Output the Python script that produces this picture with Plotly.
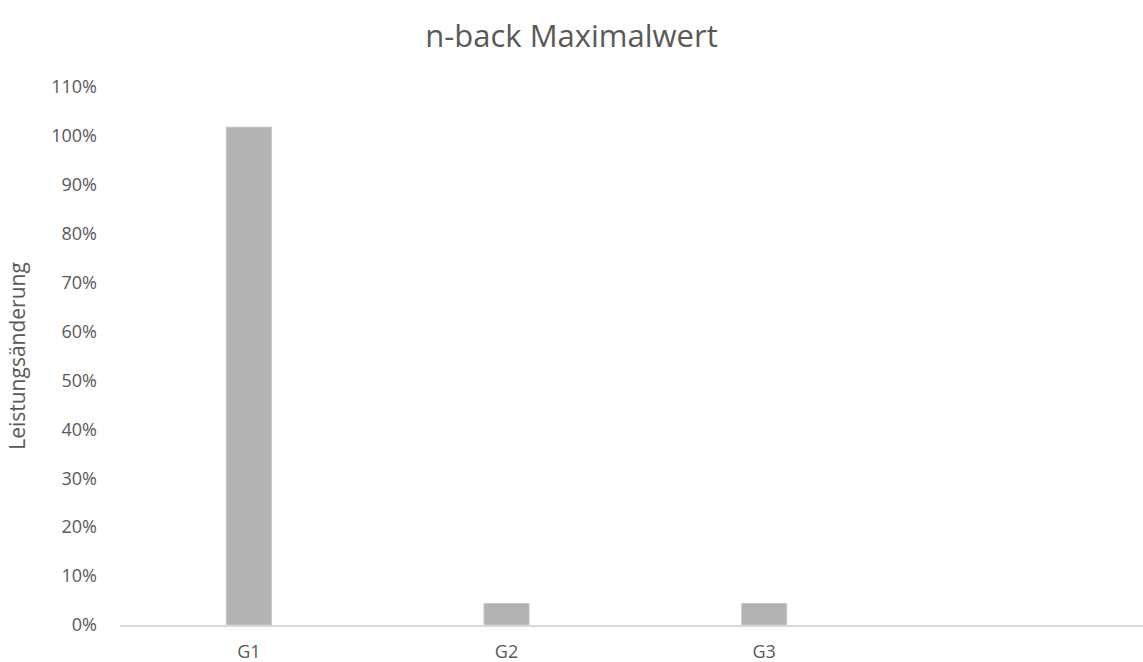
import plotly.graph_objects as go

groups = ["G1", "G2", "G3"]
change = [1.018, 0.044, 0.044]
y_ticks = [0, 0.1, 0.2, 0.3, 0.4, 0.5, 0.6, 0.7, 0.8, 0.9, 1.0, 1.1]
y_tick_labels = ["0%", "10%", "20%", "30%", "40%", "50%", "60%", "70%", "80%", "90%", "100%", "110%"]

positions = list(range(len(groups)))
font_family = "Open Sans, Liberation Sans, sans-serif"
text_color = "#595959"

fig = go.Figure(
    go.Bar(
        x=positions,
        y=change,
        width=0.175,
        marker=dict(color="#b2b2b2", line=dict(color="#c8c8c8", width=1)),
    )
)

fig.update_layout(
    width=1143,
    height=662,
    margin=dict(l=120, r=0, t=87, b=37),
    paper_bgcolor="white",
    plot_bgcolor="white",
    showlegend=False,
    font=dict(family=font_family, color=text_color, size=18),
    title=dict(
        text="n-back Maximalwert",
        x=0.5,
        xref="container",
        xanchor="center",
        y=1 - 36 / 662,
        yref="container",
        yanchor="middle",
        font=dict(size=31, color=text_color, family=font_family),
    ),
)

fig.update_xaxes(
    range=[-0.5, 3.47],
    tickvals=positions,
    ticktext=groups,
    showgrid=False,
    zeroline=False,
    showline=True,
    linecolor="#d9d9d9",
    linewidth=1.5,
    ticks="",
    ticklabelstandoff=10,
    automargin=False,
    tickfont=dict(size=18, color=text_color),
)

fig.update_yaxes(
    range=[0, 1.1],
    tickvals=y_ticks,
    ticktext=y_tick_labels,
    showgrid=False,
    zeroline=False,
    showline=False,
    ticks="",
    ticklabelstandoff=22,
    automargin=False,
    tickfont=dict(size=18, color=text_color),
    title=dict(text="Leistungsänderung", font=dict(size=21, color=text_color), standoff=19),
)

fig.write_html("out.html")
